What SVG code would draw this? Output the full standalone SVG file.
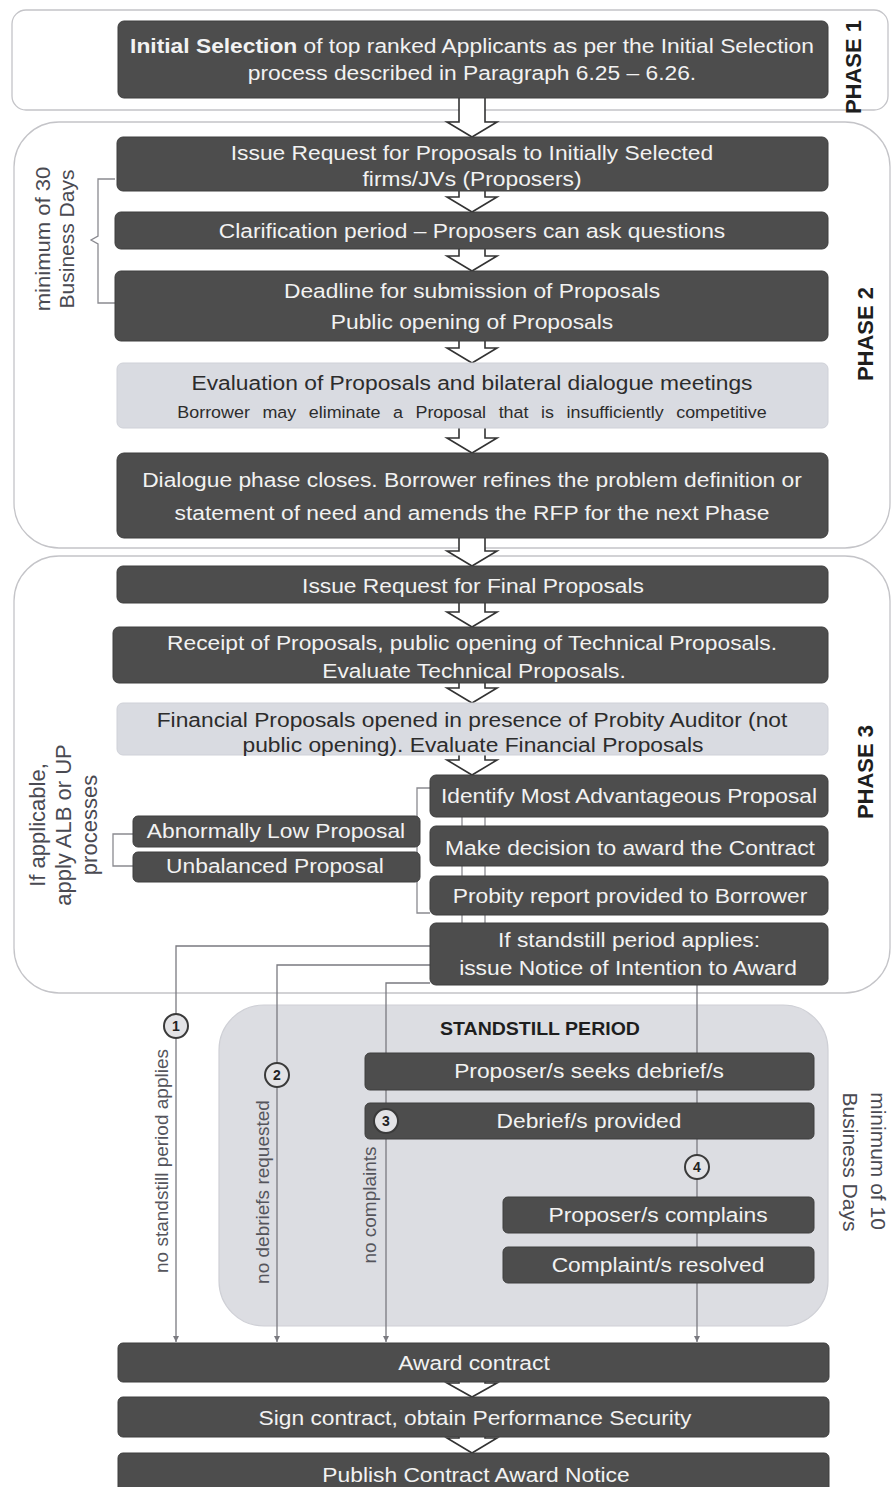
<svg xmlns="http://www.w3.org/2000/svg" width="891" height="1487" viewBox="0 0 891 1487">
<style>
.phase{fill:#ffffff;stroke:#c4c4c8;stroke-width:1.3}
.ss{fill:#dcdde2;stroke:#cfd0d6;stroke-width:1.2}
.dk{fill:#4d4d4d;stroke:#3f3f3f;stroke-width:1}
.lt{fill:#d9dbe1;stroke:#cfd1d8;stroke-width:1}
.t{font-family:"Liberation Sans",Arial,sans-serif;font-size:21px;fill:#f2f2f2;text-anchor:middle}
.td{fill:#2c2c2c}
.sm{font-size:16.5px;word-spacing:7px}
.rot{font-family:"Liberation Sans",Arial,sans-serif;font-size:21px;fill:#4a4a52;text-anchor:middle}
.ph{font-family:"Liberation Sans",Arial,sans-serif;font-size:22px;font-weight:bold;fill:#1e1e1e;text-anchor:middle}
.lbl{font-family:"Liberation Sans",Arial,sans-serif;font-size:19px;fill:#55555c;text-anchor:middle}
.ba{fill:#ffffff;stroke:#333333;stroke-width:1.6;stroke-linejoin:miter}
.ln{fill:none;stroke:#7a7a80;stroke-width:1.3}
.br{fill:none;stroke:#8a8a90;stroke-width:1.3}
.cir{fill:#e3e3e6;stroke:#3a3a3a;stroke-width:2}
.cn{font-family:"Liberation Sans",Arial,sans-serif;font-size:14px;font-weight:bold;fill:#222;text-anchor:middle}
</style>
<defs>
<marker id="ah" viewBox="0 0 8 8" refX="8" refY="4" markerWidth="6" markerHeight="6" orient="auto" markerUnits="userSpaceOnUse">
<path d="M0,0 L8,4 L0,8 z" fill="#7a7a80"/>
</marker>
</defs>

<g id="containers">
<rect id="phase1" class="phase" x="12" y="10" width="876" height="100" rx="14"/>
<rect id="phase2" class="phase" x="14" y="122" width="876" height="426" rx="45"/>
<rect id="phase3" class="phase" x="14" y="556" width="876" height="437" rx="45"/>
<rect id="standstill" class="ss" x="219" y="1005" width="609" height="321" rx="45"/>
<text class="ph" transform="translate(861 67) rotate(-90)" font-size="19">PHASE 1</text>
<text class="ph" transform="translate(873 334) rotate(-90)">PHASE 2</text>
<text class="ph" transform="translate(873 772) rotate(-90)">PHASE 3</text>
<text class="ph" style="font-size:18px" transform="translate(540 1035) scale(1.085 1)">STANDSTILL PERIOD</text>
</g>

<g id="annotations">
<path class="br" d="M115,179 H98 V236 L91,240 L98,244 V303 H115"/>
<text class="rot" transform="translate(50 239) rotate(-90) scale(1.05 1)">minimum of 30</text>
<text class="rot" transform="translate(74 239) rotate(-90)">Business Days</text>
<path class="br" d="M430,788 H417 V913 H430"/>
<path class="br" d="M133,834 H113 V866 H133"/>
<text class="rot" style="font-size:22px" transform="translate(45 825) rotate(-90)">If applicable,</text>
<text class="rot" style="font-size:22px" transform="translate(71 825) rotate(-90)">apply ALB or UP</text>
<text class="rot" style="font-size:22px" transform="translate(97 825) rotate(-90)">processes</text>
<text class="rot" transform="translate(871 1161) rotate(90)">minimum of 10</text>
<text class="rot" transform="translate(843 1162) rotate(90)">Business Days</text>
</g>

<g id="connectors">
<path class="ba" d="M459,98 V122 H447 L472,137 L497,122 H485 V98"/>
<path class="ba" d="M459,191 V197 H447 L472,212 L497,197 H485 V191"/>
<path class="ba" d="M459,249 V256 H447 L472,271 L497,256 H485 V249"/>
<path class="ba" d="M459,341 V348 H447 L472,363 L497,348 H485 V341"/>
<path class="ba" d="M459,428 V438 H447 L472,453 L497,438 H485 V428"/>
<path class="ba" d="M459,538 V551 H447 L472,566 L497,551 H485 V538"/>
<path class="ba" d="M459,603 V612 H447 L472,627 L497,612 H485 V603"/>
<path class="ba" d="M459,683 V688 H447 L472,703 L497,688 H485 V683"/>
<path class="ba" d="M459,755 V760 H447 L472,775 L497,760 H485 V755"/>
<path class="ba" d="M459,1382 V1383 H447 L472,1397 L497,1383 H485 V1382"/>
<path class="ba" d="M459,1437 V1438 H447 L472,1453 L497,1438 H485 V1437"/>
<path class="br" d="M462,817 V826 M485,817 V826 M462,866 V876 M485,866 V876 M462,915 V923 M485,915 V923" stroke="#555"/>
<path class="ln" d="M430,946 H176 V1342" marker-end="url(#ah)"/>
<path class="ln" d="M430,965 H277 V1342" marker-end="url(#ah)"/>
<path class="ln" d="M430,983 H386 V1342" marker-end="url(#ah)"/>
<path class="ln" d="M697,985 V1342" marker-end="url(#ah)"/>
<text class="lbl" transform="translate(168 1161) rotate(-90)">no standstill  period  applies</text>
<text class="lbl" transform="translate(269 1192) rotate(-90)">no debriefs  requested</text>
<text class="lbl" transform="translate(376 1205) rotate(-90)">no complaints</text>
</g>

<g id="n-initial-selection">
<rect class="dk" x="118" y="21" width="710" height="77" rx="6"/>
<text class="t" transform="translate(472 53) scale(1.085 1)"><tspan font-weight="bold">Initial Selection</tspan> of top ranked Applicants as per the Initial Selection</text>
<text class="t" transform="translate(472 80) scale(1.085 1)">process described in Paragraph 6.25 – 6.26.</text>
</g>
<g id="n-issue-rfp">
<rect class="dk" x="117" y="137" width="711" height="54" rx="6"/>
<text class="t" transform="translate(472 160) scale(1.085 1)">Issue Request for Proposals to Initially Selected</text>
<text class="t" transform="translate(472 186) scale(1.085 1)">firms/JVs (Proposers)</text>
</g>
<g id="n-clarification">
<rect class="dk" x="115" y="212" width="713" height="37" rx="6"/>
<text class="t" transform="translate(472 238) scale(1.085 1)">Clarification period – Proposers can ask questions</text>
</g>
<g id="n-deadline">
<rect class="dk" x="115" y="271" width="713" height="70" rx="6"/>
<text class="t" transform="translate(472 298) scale(1.085 1)">Deadline for submission of Proposals</text>
<text class="t" transform="translate(472 329) scale(1.085 1)">Public opening of Proposals</text>
</g>
<g id="n-evaluation">
<rect class="lt" x="117" y="363" width="711" height="65" rx="6"/>
<text class="t td" transform="translate(472 390) scale(1.085 1)">Evaluation of Proposals and bilateral dialogue meetings</text>
<text class="t td sm" transform="translate(472 418) scale(1.085 1)">Borrower may eliminate a Proposal that is insufficiently competitive</text>
</g>
<g id="n-dialogue-closes">
<rect class="dk" x="117" y="453" width="711" height="85" rx="7"/>
<text class="t" transform="translate(472 487) scale(1.085 1)">Dialogue phase closes. Borrower refines the problem definition or</text>
<text class="t" transform="translate(472 520) scale(1.085 1)">statement of need and amends the RFP for the next Phase</text>
</g>
<g id="n-final-rfp">
<rect class="dk" x="117" y="566" width="711" height="37" rx="6"/>
<text class="t" transform="translate(473 593) scale(1.085 1)">Issue Request for Final Proposals</text>
</g>
<g id="n-receipt">
<rect class="dk" x="113" y="627" width="715" height="56" rx="6"/>
<text class="t" transform="translate(472 650) scale(1.085 1)">Receipt of Proposals, public opening of Technical Proposals.</text>
<text class="t" transform="translate(474 678) scale(1.085 1)">Evaluate Technical Proposals.</text>
</g>
<g id="n-financial">
<rect class="lt" x="117" y="703" width="711" height="52" rx="6"/>
<text class="t td" transform="translate(472 727) scale(1.085 1)">Financial Proposals opened in presence of Probity Auditor (not</text>
<text class="t td" transform="translate(473 752) scale(1.085 1)">public opening). Evaluate Financial Proposals</text>
</g>
<g id="n-identify">
<rect class="dk" x="430" y="775" width="398" height="42" rx="6"/>
<text class="t" transform="translate(629 803) scale(1.085 1)">Identify Most Advantageous Proposal</text>
</g>
<g id="n-decision">
<rect class="dk" x="430" y="826" width="398" height="40" rx="6"/>
<text class="t" transform="translate(630 855) scale(1.085 1)">Make decision to award the Contract</text>
</g>
<g id="n-probity">
<rect class="dk" x="430" y="876" width="398" height="39" rx="6"/>
<text class="t" transform="translate(630 903) scale(1.085 1)">Probity report provided to Borrower</text>
</g>
<g id="n-notice">
<rect class="dk" x="430" y="923" width="398" height="62" rx="6"/>
<text class="t" transform="translate(629 947) scale(1.085 1)">If standstill period applies:</text>
<text class="t" transform="translate(628 975) scale(1.085 1)">issue Notice of Intention to Award</text>
</g>
<g id="n-alb">
<rect class="dk" x="133" y="816" width="287" height="31" rx="5"/>
<text class="t" transform="translate(276 838) scale(1.085 1)">Abnormally Low Proposal</text>
</g>
<g id="n-up">
<rect class="dk" x="133" y="852" width="287" height="30" rx="5"/>
<text class="t" transform="translate(275 873) scale(1.085 1)">Unbalanced Proposal</text>
</g>
<g id="n-seeks">
<rect class="dk" x="365" y="1053" width="449" height="37" rx="5"/>
<text class="t" transform="translate(589 1078) scale(1.085 1)">Proposer/s seeks debrief/s</text>
</g>
<g id="n-debrief">
<rect class="dk" x="365" y="1103" width="449" height="36" rx="5"/>
<text class="t" transform="translate(589 1128) scale(1.085 1)">Debrief/s provided</text>
</g>
<g id="n-complains">
<rect class="dk" x="503" y="1197" width="311" height="36" rx="5"/>
<text class="t" transform="translate(658 1222) scale(1.085 1)">Proposer/s complains</text>
</g>
<g id="n-resolved">
<rect class="dk" x="503" y="1247" width="311" height="36" rx="5"/>
<text class="t" transform="translate(658 1272) scale(1.085 1)">Complaint/s resolved</text>
</g>
<g id="n-award">
<rect class="dk" x="118" y="1343" width="711" height="39" rx="5"/>
<text class="t" transform="translate(474 1370) scale(1.085 1)">Award contract</text>
</g>
<g id="n-sign">
<rect class="dk" x="118" y="1397" width="711" height="40" rx="5"/>
<text class="t" transform="translate(475 1425) scale(1.085 1)">Sign contract, obtain Performance Security</text>
</g>
<g id="n-publish">
<rect class="dk" x="118" y="1453" width="711" height="42" rx="5"/>
<text class="t" transform="translate(476 1482) scale(1.085 1)">Publish Contract Award Notice</text>
</g>

<g id="connector-markers">
<circle class="cir" cx="176" cy="1026" r="12"/>
<text class="cn" x="176" y="1031">1</text>
<circle class="cir" cx="277" cy="1075" r="12"/>
<text class="cn" x="277" y="1080">2</text>
<circle class="cir" cx="386" cy="1121" r="12"/>
<text class="cn" x="386" y="1126">3</text>
<circle class="cir" cx="697" cy="1167" r="12"/>
<text class="cn" x="697" y="1172">4</text>
</g>
</svg>
